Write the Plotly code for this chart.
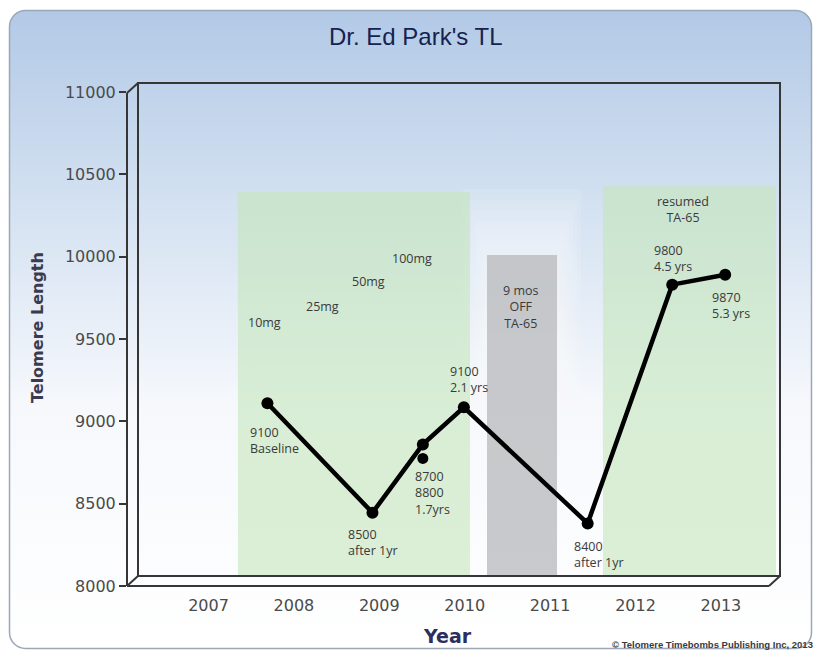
import base64
import plotly.graph_objects as go

# ---------------- data ----------------
title = "Dr. Ed Park's TL"
years_pts = [2007.69, 2008.92, 2009.51, 2009.99, 2011.44, 2012.43, 2013.05]
tl_pts = [9110, 8445, 8860, 9085, 8380, 9830, 9890]
extra_year = [2009.51]
extra_tl = [8775]

tick_years = [2007, 2008, 2009, 2010, 2011, 2012, 2013]
y_ticks = [8000, 8500, 9000, 9500, 10000, 10500, 11000]

# shaded periods: (start year, end year, top value)
green_periods = [(2007.345, 2010.062, 10393), (2011.619, 2013.645, 10429)]
gray_periods = [(2010.261, 2011.081, 10010)]

# dose labels (center x, y)
dose_text = ["10mg", "25mg", "50mg", "100mg"]
dose_x = [2007.661, 2008.329, 2008.868, 2009.383]
dose_y = [9603, 9700, 9852, 9986]

# point labels (left x, middle y)
pt_text = ["9100<br>Baseline", "8500<br>after 1yr", "8700<br>8800<br>1.7yrs",
           "9100<br>2.1 yrs", "8400<br>after 1yr", "9800<br>4.5 yrs", "9870<br>5.3 yrs"]
pt_lx = [2007.465, 2008.610, 2009.395, 2009.804, 2011.256, 2012.193, 2012.872]
pt_ly = [8884, 8264, 8562, 9257, 8194, 9986, 9706]

# period labels (center x, middle y)
period_text = ["9 mos<br>OFF<br>TA-65", "resumed<br>TA-65"]
period_x = [2010.648, 2012.556]
period_y = [9694, 10286]

# ---------------- layout geometry ----------------
W, H = 821, 654
ML, MR, MT, MB = 127, 41, 83, 68
PW, PH = W - ML - MR, H - MT - MB
DX, DY = 11, 10  # 3D depth in px

Y0 = 8000
PX_PER_UNIT = (PH - 9) / 3000.0
Y1 = Y0 + PH / PX_PER_UNIT
X_PER_YEAR = 85.4
X_2010 = 464.7
XR0 = 2010 + (ML - X_2010) / X_PER_YEAR
XR1 = 2010 + (W - MR - X_2010) / X_PER_YEAR
BACK_FLOOR = Y0 + DY / PX_PER_UNIT

svg = f'''<svg xmlns="http://www.w3.org/2000/svg" width="{W}" height="{H}" viewBox="0 0 {W} {H}">
<defs><linearGradient id="g" x1="0" y1="0" x2="0" y2="1">
<stop offset="0" stop-color="#b2c9e6"/><stop offset="0.3" stop-color="#d3e1f1"/>
<stop offset="0.62" stop-color="#f6f8fc"/><stop offset="1" stop-color="#ffffff"/></linearGradient></defs>
<rect x="0" y="0" width="{W}" height="{H}" fill="#ffffff"/>
<rect x="9.5" y="10.5" width="{W-19}" height="{H-16}" rx="16" ry="16" fill="url(#g)" stroke="#9ba7b6" stroke-width="1.5"/>
</svg>'''
bg_uri = "data:image/svg+xml;base64," + base64.b64encode(svg.encode()).decode()

fig = go.Figure()

shapes = []
# soft white glow around the gray period
for x0, x1, top in gray_periods:
    for k in range(1, 7):
        padx = k * 4 / X_PER_YEAR
        pady = k * 11 / PX_PER_UNIT
        shapes.append(dict(type="rect", xref="x", yref="y", x0=x0 - padx, x1=x1 + padx,
                           y0=BACK_FLOOR, y1=top + pady,
                           fillcolor="rgba(255,255,255,0.1)", line=dict(width=0), layer="below"))
for x0, x1, top in green_periods:
    shapes.append(dict(type="rect", xref="x", yref="y", x0=x0, x1=x1, y0=BACK_FLOOR, y1=top,
                       fillcolor="rgba(196,230,186,0.6)", line=dict(width=0), layer="below"))
for x0, x1, top in gray_periods:
    shapes.append(dict(type="rect", xref="x", yref="y", x0=x0, x1=x1, y0=BACK_FLOOR, y1=top,
                       fillcolor="rgba(180,181,184,0.72)", line=dict(width=0), layer="below"))

dxp, dyp = DX / PW, DY / PH
lc = dict(color="#363636", width=2)
shapes += [
    dict(type="rect", xref="paper", yref="paper", x0=dxp, x1=1, y0=dyp, y1=1, line=lc, layer="above"),
    dict(type="line", xref="paper", yref="paper", x0=0, x1=0, y0=0, y1=1 - dyp, line=lc),
    dict(type="line", xref="paper", yref="paper", x0=0, x1=1 - dxp, y0=0, y1=0, line=lc),
    dict(type="line", xref="paper", yref="paper", x0=0, x1=dxp, y0=0, y1=dyp, line=lc),
    dict(type="line", xref="paper", yref="paper", x0=0, x1=dxp, y0=1 - dyp, y1=1, line=lc),
    dict(type="line", xref="paper", yref="paper", x0=1 - dxp, x1=1, y0=0, y1=dyp, line=lc),
]

fig.add_trace(go.Scatter(x=years_pts, y=tl_pts, mode="lines+markers",
                         line=dict(color="black", width=4.5),
                         marker=dict(color="black", size=12), hoverinfo="skip"))
fig.add_trace(go.Scatter(x=extra_year, y=extra_tl, mode="markers",
                         marker=dict(color="black", size=11), hoverinfo="skip"))

ann_font = dict(family="Open Sans", size=12.5, color="#3a3a3a")
anns = []
for t, x, y in zip(dose_text, dose_x, dose_y):
    anns.append(dict(x=x, y=y, text=t, showarrow=False, xanchor="center", yanchor="middle", font=ann_font))
for t, x, y in zip(pt_text, pt_lx, pt_ly):
    anns.append(dict(x=x, y=y, text=t, showarrow=False, xanchor="left", yanchor="middle",
                     align="left", font=ann_font))
for t, x, y in zip(period_text, period_x, period_y):
    anns.append(dict(x=x, y=y, text=t, showarrow=False, xanchor="center", yanchor="middle",
                     align="center", font=ann_font))

def px2paper(px, py):
    return (px - ML) / PW, (H - MB - py) / PH

tx, ty = px2paper(416, 37)
anns.append(dict(xref="paper", yref="paper", x=tx, y=ty, text=title, showarrow=False,
                 xanchor="center", yanchor="middle",
                 font=dict(family="Liberation Sans", size=24, color="#16224f")))
yx, yy = px2paper(37, 328)
anns.append(dict(xref="paper", yref="paper", x=yx, y=yy, text="<b>Telomere Length</b>", showarrow=False,
                 textangle=-90, xanchor="center", yanchor="middle",
                 font=dict(family="DejaVu Sans", size=16, color="#3b3b4f")))
xx, xy = px2paper(447, 636)
anns.append(dict(xref="paper", yref="paper", x=xx, y=xy, text="<b>Year</b>", showarrow=False,
                 xanchor="center", yanchor="middle",
                 font=dict(family="DejaVu Sans", size=19, color="#2e2e5e")))
cx, cy = px2paper(815, 644)
anns.append(dict(xref="paper", yref="paper", x=cx, y=cy,
                 text="<b>© Telomere Timebombs Publishing Inc, 2013</b>", showarrow=False,
                 xanchor="right", yanchor="middle",
                 font=dict(family="Liberation Sans", size=9.5, color="#3a3a3a")))

fig.update_layout(
    width=W, height=H, margin=dict(l=ML, r=MR, t=MT, b=MB),
    paper_bgcolor="rgba(0,0,0,0)", plot_bgcolor="rgba(0,0,0,0)",
    showlegend=False, shapes=shapes, annotations=anns,
    images=[dict(source=bg_uri, xref="paper", yref="paper", x=-ML / PW, y=(H - MB) / PH,
                 sizex=W / PW, sizey=H / PH, xanchor="left", yanchor="top",
                 sizing="stretch", layer="below")],
    xaxis=dict(range=[XR0, XR1], tickvals=tick_years, ticks="", showgrid=False, zeroline=False,
               showline=False, ticklabelstandoff=8, tickformat="d",
               tickfont=dict(family="DejaVu Sans", size=16, color="#4a4a4a")),
    yaxis=dict(range=[Y0, Y1], tickvals=y_ticks, ticks="outside", ticklen=7, tickwidth=1.5,
               tickcolor="#363636", showgrid=False, zeroline=False, showline=False, tickformat="d",
               tickfont=dict(family="DejaVu Sans", size=16, color="#4a4a4a")),
)

fig.write_html("out.html")
